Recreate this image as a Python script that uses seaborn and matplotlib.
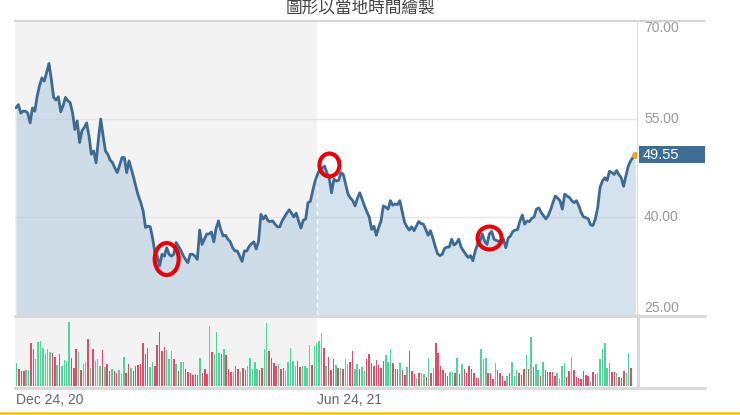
import numpy as np
import pandas as pd
import matplotlib
matplotlib.use("Agg")
import matplotlib.pyplot as plt
import matplotlib.transforms as mtransforms
from matplotlib.patches import Ellipse, Rectangle
from matplotlib.lines import Line2D
import seaborn as sns

# ---------------- data ----------------
title = "圖形以當地時間繪製"

price = [
    # Dec 24, 20 ->
    56.7, 57.2, 55.9, 56.2, 56.2, 55.9, 54.4, 56.7, 56.2, 58.5, 60.1, 61.3, 60.8, 62.1, 63.5,
    61.1, 58.3, 57.9, 58.4, 56.1, 57.0, 58.3, 57.8, 57.5, 56.0, 53.4, 54.7, 51.4, 53.2, 53.7,
    54.4, 52.4, 49.6, 50.1, 48.3, 51.9, 55.0, 52.4, 50.1, 49.6, 48.7, 48.3, 47.5, 46.8, 47.9,
    49.1, 49.1, 46.8, 48.6, 47.3, 46.0, 44.5, 43.2, 42.2, 40.9, 38.4, 38.6, 38.5, 36.8, 34.5,
    34.0, 32.5, 34.3,
    34.0, 35.3, 34.3, 34.0, 34.3, 36.1, 35.5, 34.9, 34.1, 33.5, 33.0, 34.3, 34.3, 34.0, 33.5,
    38.0, 35.8, 36.6, 37.4, 37.4, 37.7, 36.2, 38.3, 39.4, 38.0, 37.1, 37.2, 36.6, 36.2, 35.3,
    34.8, 34.8, 34.0, 33.2, 34.8, 34.8, 35.5, 35.9, 36.2, 35.1, 36.3, 40.4, 39.7, 40.2, 39.4,
    39.3, 39.4, 38.9, 38.5, 38.5, 39.4, 40.0, 40.6, 41.1, 40.6, 40.0, 40.6, 39.4, 38.3, 39.5,
    39.7, 42.2, 42.4, 44.0, 45.5, 46.5, 47.3,
    # after Jun 24, 21
    47.5, 47.8, 46.8, 46.0, 43.7, 45.8, 45.5, 45.6, 46.8, 46.5, 45.0, 43.5, 42.9, 42.5, 41.7,
    42.9, 43.7, 42.7, 41.7, 40.8, 40.0, 38.1, 38.6, 37.2, 38.4, 39.4, 41.7, 41.5, 41.2, 42.5,
    41.8, 42.0, 41.9, 42.5, 40.8, 39.2, 38.5, 38.0, 38.5, 37.9, 38.6, 39.3, 39.0, 38.9, 38.1,
    37.2, 37.9, 36.8, 35.5, 34.4, 34.1, 34.3, 35.2, 35.4, 35.4, 36.6, 35.7, 36.0, 36.6, 35.4,
    34.8, 34.3, 33.8, 34.1, 33.3, 34.8,
    35.8, 36.3, 37.4, 36.3, 35.8, 37.4, 37.8, 36.6, 36.4, 36.3, 36.0, 36.6, 35.3, 36.8, 37.1,
    37.8, 38.0, 38.1, 39.4, 40.3, 38.9, 39.4, 39.3, 39.8, 40.0, 41.2, 41.4, 40.7, 40.2, 39.7,
    40.2, 41.1, 42.2, 43.2, 42.9, 42.5, 41.2, 43.5, 43.2, 43.0, 42.5, 42.2, 42.5, 41.7, 40.7,
    40.0, 39.9, 39.7, 38.8, 38.7, 39.7, 41.4, 44.5, 45.5, 46.0, 45.6, 47.0, 46.8, 46.5, 47.1,
    46.5, 46.0, 44.7, 46.3, 47.8, 48.6, 49.1, 49.55,
]

volume = [
    70, 52, 45, 45, 47, 47, 130, 112, 80, 132, 135, 113, 100, 110, 102, 100, 88, 62, 95, 60,
    77, 75, 192, 83, 55, 110, 102, 48, 65, 72, 140, 55, 112, 75, 80, 60, 108, 58, 65, 45,
    50, 45, 40, 48, 35, 88, 40, 65, 55, 45, 60, 62, 65, 128, 95, 115, 58, 72, 60, 122,
    162, 105, 118, 107, 80, 105,
    82, 67, 45, 73, 72, 50, 43, 38, 32, 37, 32, 85, 38, 50, 35, 180, 102, 95, 162, 98,
    95, 112, 92, 52, 42, 42, 60, 52, 43, 55, 47, 60, 85, 50, 73, 50, 48, 55, 112, 188,
    105, 83, 70, 60, 67, 52, 55, 45, 72, 115, 75, 60, 75, 58, 60, 60, 55, 122, 62, 120,
    130, 135, 160, 113,
    60, 88, 48, 80, 63, 55, 53, 52, 80, 67, 72, 105, 50, 65, 50, 58, 45, 80, 95, 68,
    60, 77, 62, 55, 75, 93, 72, 110, 70, 50, 50, 70, 48, 32, 58, 105, 45, 35, 25, 38,
    40, 35, 27, 85, 40, 53, 130, 100, 60, 48, 38, 30, 42, 42, 38, 83, 35, 65, 50, 40,
    60, 50, 40, 25, 24,
    110, 82, 83, 40, 40, 22, 70, 48, 38, 30, 15, 30, 40, 72, 30, 48, 38, 32, 52, 92,
    50, 148, 58, 65, 48, 30, 72, 48, 42, 42, 42, 30, 38, 25, 60, 68, 28, 45, 88, 48,
    27, 25, 20, 45, 32, 30, 15, 42, 35, 38, 80, 112, 128, 55, 68, 42, 42, 38, 28, 25,
    45, 38, 98, 55,
]

volume_dir = list(
    "grrrggrrgggggggrrgrggggrrrgrggrgrgggrgrrgrrgggrrgrrrrrrrggrrrrrggg"
    "rgrggrrrrrrgrrrgrgggrgrrrgrrgrrgggggrrggrrrrgrrgggggrrggggrggggr"
    "grrrgrgrggrrggrggrrrrrrrrgggrrrgrrgrrrgrggrgrgrrrrrrggrgrgrrrrrrr"
    "gggrrrgrrrrgrgggrrrgrgrggrgrrrrrggggrrgrrrrrrrgrrggggggrrgrrrggr"
)

x_tick_labels = ["Dec 24, 20", "Jun 24, 21"]
x_tick_index = [0, 128]
y_ticks = [25, 40, 55, 70]
y_tick_labels = ["25.00", "40.00", "55.00", "70.00"]
last_label = "49.55"

circle_index = [64.0, 133.1, 201.1]
circle_value = [33.56, 47.96, 36.78]
circle_w = [10.2, 8.5, 10.2]
circle_h = [4.9, 3.5, 3.5]

# ---------------- style ----------------
sns.set_style("white")
plt.rcParams["font.family"] = ["Liberation Sans", "DejaVu Sans"]

W, H = 740, 415
fig = plt.figure(figsize=(W / 100, H / 100), dpi=100)
fig.patch.set_facecolor("white")


def fx(x):
    return x / W


def fy(y):
    return 1 - y / H


PX_L, PX_R = 15, 637
ax = fig.add_axes([fx(PX_L), fy(315), (PX_R - PX_L) / W, (315 - 21) / H])
axv = fig.add_axes([fx(PX_L), fy(386), (PX_R - PX_L) / W, (386 - 316) / H])
for a in (ax, axv):
    a.set_facecolor("none")
    for s in a.spines.values():
        s.set_visible(False)

n = len(price)
idx = np.arange(n)
df_price = pd.DataFrame({"i": idx, "price": price})

ax.set_xlim(-0.42, n - 1 + 0.7)
ax.set_ylim(25, 70)

# grey "past" region behind both panels
blend = mtransforms.blended_transform_factory(ax.transData, fig.transFigure)
shade = Rectangle((-0.42, fy(387)), x_tick_index[1] + 0.42, fy(21) - fy(387),
                  transform=blend, facecolor="#f3f3f3", edgecolor="none", zorder=-5)
fig.add_artist(shade)

# gridlines
for yv in (40, 55):
    ax.axhline(yv, color="#e6e6e6", lw=1.0, zorder=1)

ax.fill_between(idx, price, 25, color="#a8c6dc", alpha=0.5, lw=0, zorder=2)
ax.axvline(x_tick_index[1], color="white", lw=1.0, ls=(0, (3, 3)), alpha=0.9, zorder=2.5)
sns.lineplot(data=df_price, x="i", y="price", ax=ax, color="#3d6a92", lw=2.0,
             zorder=3, estimator=None)
ax.plot([idx[-1]], [price[-1]], "o", color="#f0a030", ms=4, zorder=4)

for cx, cy, cw, ch in zip(circle_index, circle_value, circle_w, circle_h):
    ax.add_patch(Ellipse((cx, cy), cw, ch, facecolor="none", edgecolor="#e8000b",
                         lw=3.0, zorder=5))

ax.set_xlabel("")
ax.set_ylabel("")
ax.set_xticks([])
ax.yaxis.tick_right()
ax.set_yticks(y_ticks)
ax.set_yticklabels(y_tick_labels)
ax.tick_params(axis="y", length=0, pad=5, labelsize=10, labelcolor="#999999")
for lab, yv in zip(ax.get_yticklabels(), y_ticks):
    if yv == 70:
        lab.set_verticalalignment("top")
    elif yv == 25:
        lab.set_verticalalignment("bottom")
    else:
        lab.set_verticalalignment("center")

# volume panel
nv = len(volume)
df_vol = pd.DataFrame({"i": np.arange(nv), "v": volume, "d": volume_dir})
sns.barplot(data=df_vol, x="i", y="v", hue="d", dodge=False, native_scale=True,
            palette={"g": "#4fd49a", "r": "#e24c68"}, width=0.62, errorbar=None,
            legend=False, ax=axv, zorder=3, linewidth=0, edgecolor="none",
            saturation=1)
axv.set_xlim(-0.7, nv - 1 + 2.5)
axv.set_ylim(0, 210)
axv.set_xticks([])
axv.set_yticks([])
axv.set_xlabel("")
axv.set_ylabel("")

# frame lines
def hline(y, x0, x1, lw, color):
    fig.add_artist(Line2D([fx(x0), fx(x1)], [fy(y), fy(y)], lw=lw, color=color,
                          transform=fig.transFigure, zorder=6))


def vline(x, y0, y1, lw, color):
    fig.add_artist(Line2D([fx(x), fx(x)], [fy(y0), fy(y1)], lw=lw, color=color,
                          transform=fig.transFigure, zorder=6))

hline(21.5, 15, 705, 1.5, "#d4d4d4")
hline(315.5, 15, 705, 2.3, "#d9d9d9")
hline(388, 15, 705, 2.3, "#d9d9d9")
vline(637, 21.5, 315, 0.8, "#dddddd")
vline(638, 315, 388, 2.3, "#d9d9d9")
hline(412.8, 0, 740, 1.8, "#f2c200")

# last price box
fig.add_artist(Rectangle((fx(639), fy(163)), fx(705) - fx(639), fy(146) - fy(163),
                         transform=fig.transFigure, facecolor="#3e6d96",
                         edgecolor="none", zorder=7))
fig.text(fx(643), fy(154.5), last_label, color="white", fontsize=10.5,
         va="center", ha="left", zorder=8)

# x tick labels
for lab, ti in zip(x_tick_labels, x_tick_index):
    ax.text(ti, fy(400), lab, transform=blend, ha="left", va="center",
            fontsize=10, color="#666666", clip_on=False)

# title
fig.text(0.487, fy(8), title, ha="center", va="center", fontsize=12, color="#444444",
         family=["Noto Sans CJK TC", "DejaVu Sans"])

fig.savefig("out.png", dpi=100)
